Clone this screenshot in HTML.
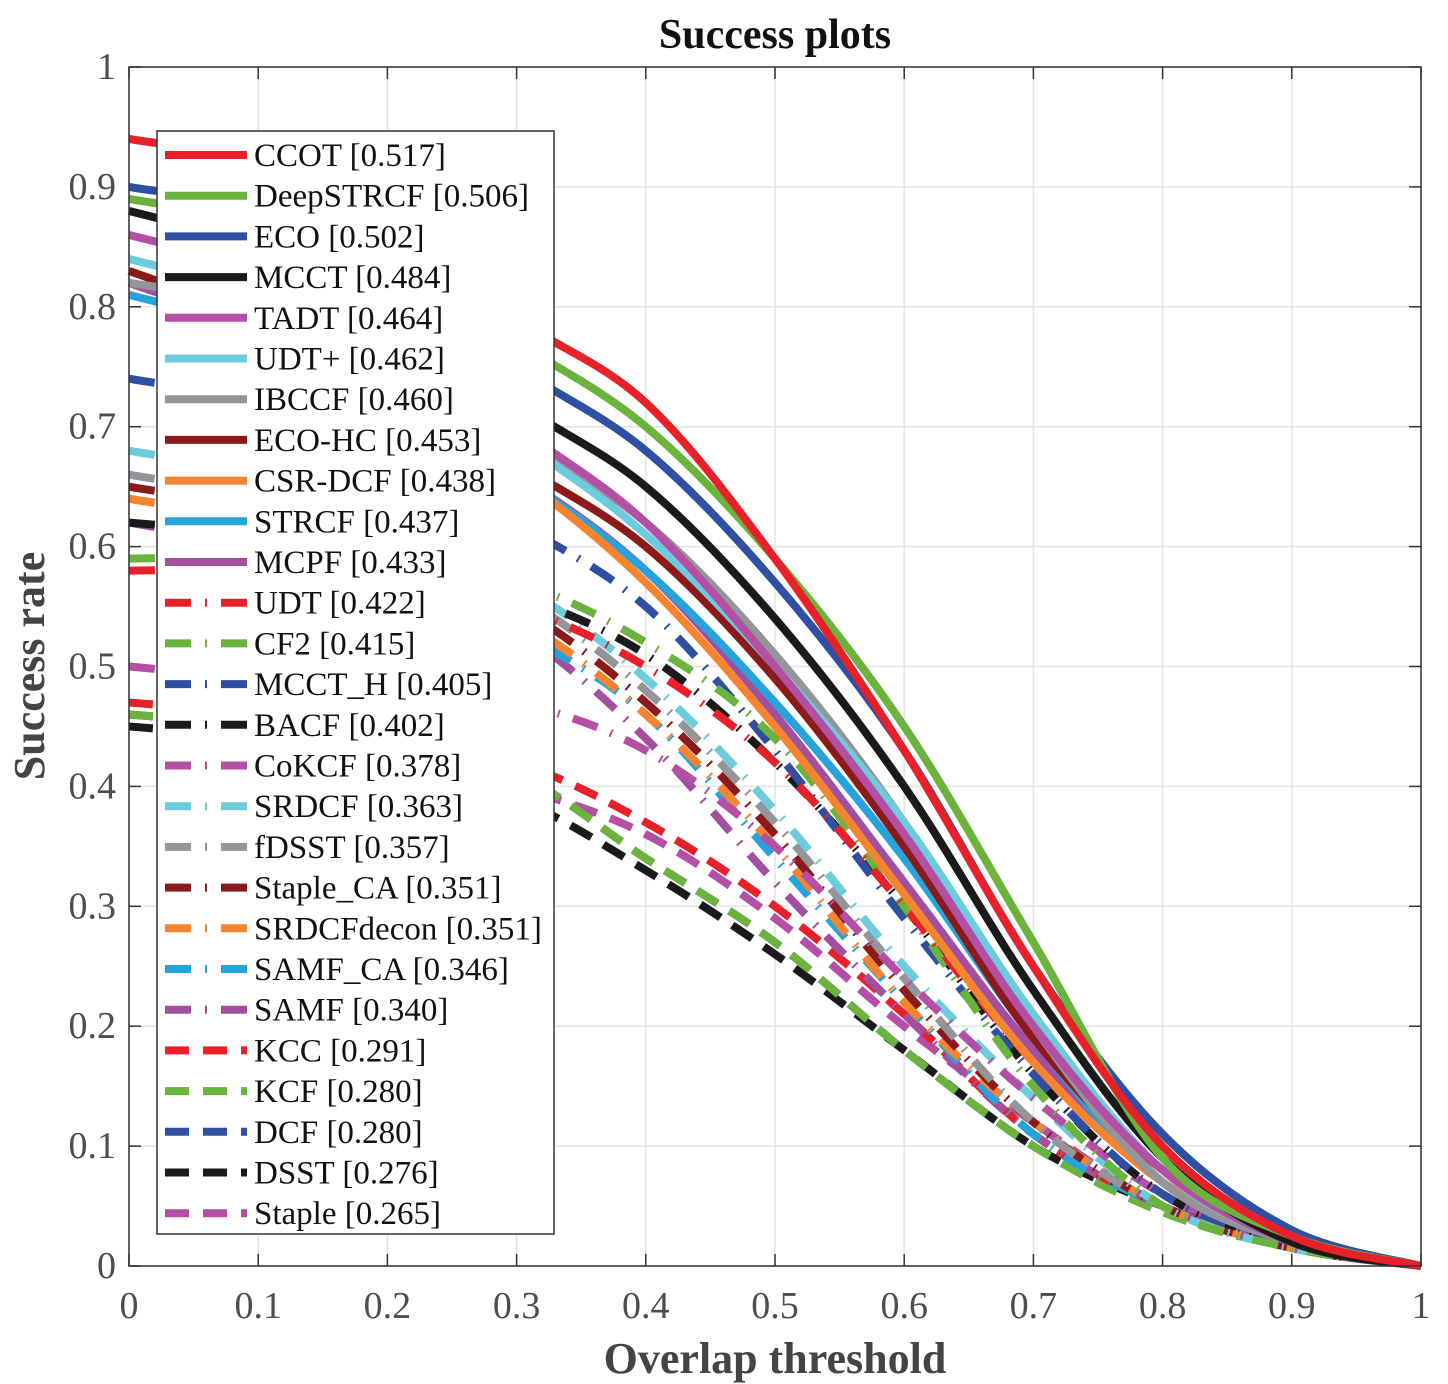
<!DOCTYPE html>
<html><head><meta charset="utf-8"><style>
body{margin:0;background:#fff}
svg{display:block;font-family:"Liberation Serif",serif}
</style></head><body>
<svg id="c" width="1448" height="1384"></svg>
<script>
const thresholds=[0,0.1,0.2,0.3,0.4,0.5,0.6,0.7,0.8,0.9,1];
const names=["CCOT","DeepSTRCF","ECO","MCCT","TADT","UDT+","IBCCF","ECO-HC","CSR-DCF","STRCF","MCPF","UDT","CF2","MCCT_H","BACF","CoKCF","SRDCF","fDSST","Staple_CA","SRDCFdecon","SAMF_CA","SAMF","KCC","KCF","DCF","DSST","Staple"];
const scores=["0.517","0.506","0.502","0.484","0.464","0.462","0.460","0.453","0.438","0.437","0.433","0.422","0.415","0.405","0.402","0.378","0.363","0.357","0.351","0.351","0.346","0.340","0.291","0.280","0.280","0.276","0.265"];
const colors=["#e8202a","#6ab43e","#2f4fa2","#1a1a1a","#b44fa5","#6ccbdc","#939598","#8b1a1a","#f6842f","#27a3dc","#a34fa0","#e8202a","#6ab43e","#2f4fa2","#1a1a1a","#b44fa5","#6ccbdc","#939598","#8b1a1a","#f6842f","#27a3dc","#a34fa0","#e8202a","#6ab43e","#2f4fa2","#1a1a1a","#b44fa5"];
const s0=[0.94,0.92,0.87,0.79,0.72,0.59,0.43,0.25,0.10,0.025,0];
const s1=[0.89,0.87,0.83,0.77,0.70,0.59,0.45,0.27,0.09,0.025,0];
const s2=[0.90,0.88,0.83,0.75,0.68,0.57,0.43,0.25,0.11,0.03,0];
const s3=[0.88,0.85,0.80,0.72,0.65,0.54,0.40,0.23,0.09,0.02,0];
const s4=[0.86,0.83,0.78,0.70,0.62,0.50,0.36,0.20,0.08,0.02,0];
const s5=[0.84,0.81,0.76,0.69,0.61,0.50,0.37,0.21,0.08,0.02,0];
const s6=[0.82,0.80,0.75,0.69,0.62,0.51,0.37,0.20,0.07,0.02,0];
const s7=[0.83,0.79,0.74,0.67,0.60,0.49,0.35,0.19,0.08,0.02,0];
const s8=[0.83,0.79,0.73,0.66,0.57,0.45,0.31,0.17,0.07,0.02,0];
const s9=[0.81,0.78,0.73,0.66,0.58,0.47,0.34,0.19,0.07,0.02,0];
const s10=[0.82,0.78,0.72,0.66,0.58,0.46,0.32,0.18,0.07,0.02,0];
const s11=[0.58,0.58,0.57,0.55,0.50,0.42,0.30,0.17,0.07,0.02,0];
const s12=[0.59,0.59,0.58,0.57,0.52,0.44,0.30,0.15,0.05,0.015,0];
const s13=[0.74,0.72,0.68,0.62,0.55,0.43,0.29,0.16,0.06,0.02,0];
const s14=[0.62,0.61,0.59,0.56,0.51,0.42,0.30,0.16,0.06,0.02,0];
const s15=[0.50,0.49,0.48,0.47,0.43,0.35,0.24,0.14,0.06,0.02,0];
const s16=[0.68,0.66,0.62,0.57,0.49,0.38,0.25,0.14,0.05,0.015,0];
const s17=[0.66,0.64,0.60,0.56,0.48,0.37,0.24,0.12,0.05,0.015,0];
const s18=[0.65,0.63,0.59,0.55,0.47,0.36,0.23,0.12,0.05,0.015,0];
const s19=[0.64,0.62,0.58,0.54,0.46,0.35,0.22,0.12,0.05,0.015,0];
const s20=[0.64,0.62,0.58,0.53,0.46,0.34,0.22,0.11,0.05,0.015,0];
const s21=[0.62,0.60,0.57,0.53,0.44,0.32,0.21,0.11,0.05,0.015,0];
const s22=[0.47,0.46,0.44,0.42,0.37,0.30,0.21,0.11,0.05,0.015,0];
const s23=[0.46,0.45,0.43,0.41,0.34,0.27,0.18,0.10,0.045,0.015,0];
const s24=[0.46,0.45,0.43,0.41,0.34,0.27,0.18,0.10,0.045,0.015,0];
const s25=[0.45,0.44,0.42,0.39,0.33,0.26,0.18,0.10,0.05,0.015,0];
const s26=[0.46,0.45,0.43,0.40,0.36,0.29,0.20,0.12,0.05,0.015,0];
const series=[s0,s1,s2,s3,s4,s5,s6,s7,s8,s9,s10,s11,s12,s13,s14,s15,s16,s17,s18,s19,s20,s21,s22,s23,s24,s25,s26];
const ticks=[0,0.1,0.2,0.3,0.4,0.5,0.6,0.7,0.8,0.9,1];
const tickLabels=["0","0.1","0.2","0.3","0.4","0.5","0.6","0.7","0.8","0.9","1"];

const L=129,R=1421,T=67,B=1266;
const xs=v=>L+v*(R-L), ys=v=>B-v*(B-T);
const NS="http://www.w3.org/2000/svg";
const svg=document.getElementById('c');
function mk(t,a,p){const e=document.createElementNS(NS,t);for(const k in a)e.setAttribute(k,a[k]);(p||svg).appendChild(e);return e;}
mk('rect',{x:L,y:T,width:R-L,height:B-T,fill:'#fff'});
const grid=mk('g',{});


ticks.forEach((t,i)=>{
 mk('line',{x1:xs(t),x2:xs(t),y1:T,y2:B,stroke:'#e4e4e4','stroke-width':1.5},grid);
 mk('line',{x1:L,x2:R,y1:ys(t),y2:ys(t),stroke:'#e4e4e4','stroke-width':1.5},grid);
 const xl=mk('text',{x:xs(t),y:1318,'text-anchor':'middle','font-size':38,fill:'#4d4d4d'});xl.textContent=tickLabels[i];
 
 
 const yl=mk('text',{x:116,y:ys(t)+12,'text-anchor':'end','font-size':38,fill:'#4d4d4d'});yl.textContent=tickLabels[i];
 
 
 mk('line',{x1:xs(t),x2:xs(t),y1:B,y2:B-12,stroke:'#333','stroke-width':1.5});
 mk('line',{x1:xs(t),x2:xs(t),y1:T,y2:T+12,stroke:'#333','stroke-width':1.5});
 mk('line',{x1:L,x2:L+12,y1:ys(t),y2:ys(t),stroke:'#333','stroke-width':1.5});
 mk('line',{x1:R,x2:R-12,y1:ys(t),y2:ys(t),stroke:'#333','stroke-width':1.5});
});
function dashFor(i){return i<11?'none':(i<22?'26 14 2 14':'24 14');}
function pathFor(d){
 const p=d.map((v,i)=>[xs(thresholds[i]),ys(v)]);
 let s='M'+p[0][0]+','+p[0][1];
 for(let i=0;i<p.length-1;i++){
  const p0=p[Math.max(i-1,0)],p1=p[i],p2=p[i+1],p3=p[Math.min(i+2,p.length-1)];
  s+=' C'+(p1[0]+(p2[0]-p0[0])/6)+','+(p1[1]+(p2[1]-p0[1])/6)+' '+(p2[0]-(p3[0]-p1[0])/6)+','+(p2[1]-(p3[1]-p1[1])/6)+' '+p2[0]+','+p2[1];
 }
 return s;
}
for(let i=series.length-1;i>=0;i--){
 const pa=mk('path',{d:pathFor(series[i]),fill:'none',stroke:colors[i],'stroke-width':8,'stroke-dasharray':dashFor(i)});
 
 
}
mk('rect',{x:L,y:T,width:R-L,height:B-T,fill:'none',stroke:'#333','stroke-width':1.5});
const lg=mk('g',{});


mk('rect',{x:157,y:131,width:397,height:1103,fill:'#fff',stroke:'#333','stroke-width':1.5},lg);
names.forEach((n,i)=>{
 const y=155+i*40.7;
 const g=mk('g',{},lg);
 
 
 mk('line',{x1:165,x2:247,y1:y,y2:y,stroke:colors[i],'stroke-width':8,'stroke-dasharray':dashFor(i)},g);
 const t=mk('text',{x:254,y:y+11,'font-size':33,fill:'#111'},g);t.textContent=n+' ['+scores[i]+']';
});
const ti=mk('text',{x:775,y:48,'text-anchor':'middle','font-size':42,'font-weight':'bold',fill:'#111'});ti.textContent='Success plots';

const xt=mk('text',{x:775,y:1373,'text-anchor':'middle','font-size':44,'font-weight':'bold',fill:'#444'});xt.textContent='Overlap threshold';

const yt=mk('text',{x:0,y:0,'text-anchor':'middle','font-size':44,'font-weight':'bold',fill:'#444',transform:'translate(44,666) rotate(-90)'});yt.textContent='Success rate';

</script>
</body></html>
